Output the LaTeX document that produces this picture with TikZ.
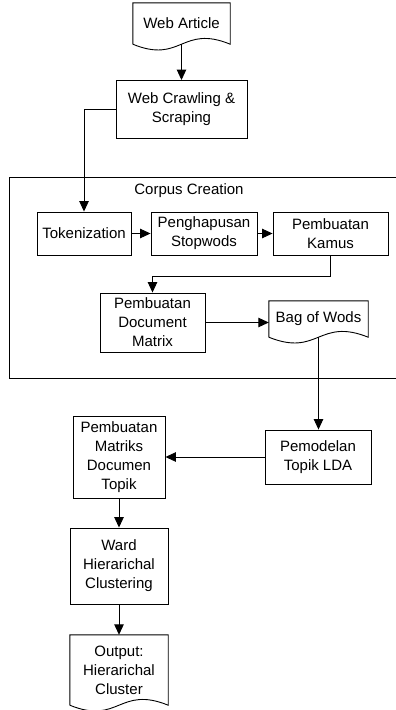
\documentclass[tikz,border=0pt]{standalone}
\usepackage{fontspec}
\setmainfont{Liberation Sans}
\usetikzlibrary{arrows.meta, calc}

\begin{document}
\begin{tikzpicture}[x=1pt, y=-1pt]
    % Define styles
    \tikzstyle{process} = [rectangle, draw, line width=0.9pt, align=center, inner sep=2pt, font=\fontsize{15}{19}\selectfont]
    \tikzstyle{docnode} = [rectangle, align=center, inner sep=2pt, font=\fontsize{15}{19}\selectfont]
    \tikzstyle{docline} = [line width=0.9pt]
    \tikzstyle{frame} = [rectangle, draw, line width=0.9pt, minimum width=401pt, minimum height=201pt]
    \tikzstyle{arrow} = [-{Triangle[length=10.5pt, width=9.5pt]}, line width=0.9pt]

    \useasboundingbox (0,0) rectangle (396,710);

    % Corpus Creation frame
    \node[frame] (corpus) at (209.5, 277.5) {};
    \node[font=\fontsize{15}{19}\selectfont] (corpuslabel) at (189, 191) {Corpus Creation};

    % Documents
    \node[docnode, minimum width=97pt, minimum height=41pt] (webart) at (181.5, 23.5) {Web Article};
    \node[docnode, minimum width=99pt, minimum height=36pt] (bow) at (318.5, 319) {Bag of Wods};
    \node[docnode, minimum width=98pt, minimum height=70pt] (output) at (119, 670) {Output:\\Hierarichal\\Cluster};

    % Processes
    \node[process, minimum width=131pt, minimum height=58pt] (crawl) at (181.5, 109.5) {Web Crawling \&\\Scraping};
    \node[process, minimum width=94pt, minimum height=43pt] (token) at (84, 233.5) {Tokenization};
    \node[process, minimum width=106pt, minimum height=43pt] (stopw) at (204, 233.5) {Penghapusan\\Stopwods};
    \node[process, minimum width=115pt, minimum height=43pt] (kamus) at (330.5, 233.5) {Pembuatan\\Kamus};
    \node[process, minimum width=105pt, minimum height=59pt] (docmat) at (152.5, 322.5) {Pembuatan\\Document\\Matrix};
    \node[process, minimum width=106pt, minimum height=54pt] (lda) at (318, 457) {Pemodelan\\Topik LDA};
    \node[process, minimum width=92pt, minimum height=82pt] (mdt) at (119, 457) {Pembuatan\\Matriks\\Documen\\Topik};
    \node[process, minimum width=98pt, minimum height=76pt] (ward) at (119, 566) {Ward\\Hierarichal\\Clustering};

    % Document outlines
    \foreach \d in {webart, bow, output}
        \draw[docline] (\d.south west) -- (\d.north west) -- (\d.north east) -- (\d.south east)
            .. controls ($(\d.south)+(0,-20)$) and ($(\d.south)+(0,20)$) .. (\d.south west);

    % Arrows
    \draw[arrow] (webart.south) -- (crawl.north);
    \draw[arrow] (crawl.west) -| (token.north);
    \draw[arrow] (token) -- (stopw);
    \draw[arrow] (stopw) -- (kamus);
    \draw[arrow] (kamus.south) -- ++(0,21) -| (docmat.north);
    \draw[arrow] (docmat.east) -- (docmat.east -| bow.west);
    \draw[arrow] (bow.south) -- (bow.south |- lda.north);
    \draw[arrow] (lda) -- (mdt);
    \draw[arrow] (mdt) -- (ward);
    \draw[arrow] (ward) -- (output);

\end{tikzpicture}
\end{document}
